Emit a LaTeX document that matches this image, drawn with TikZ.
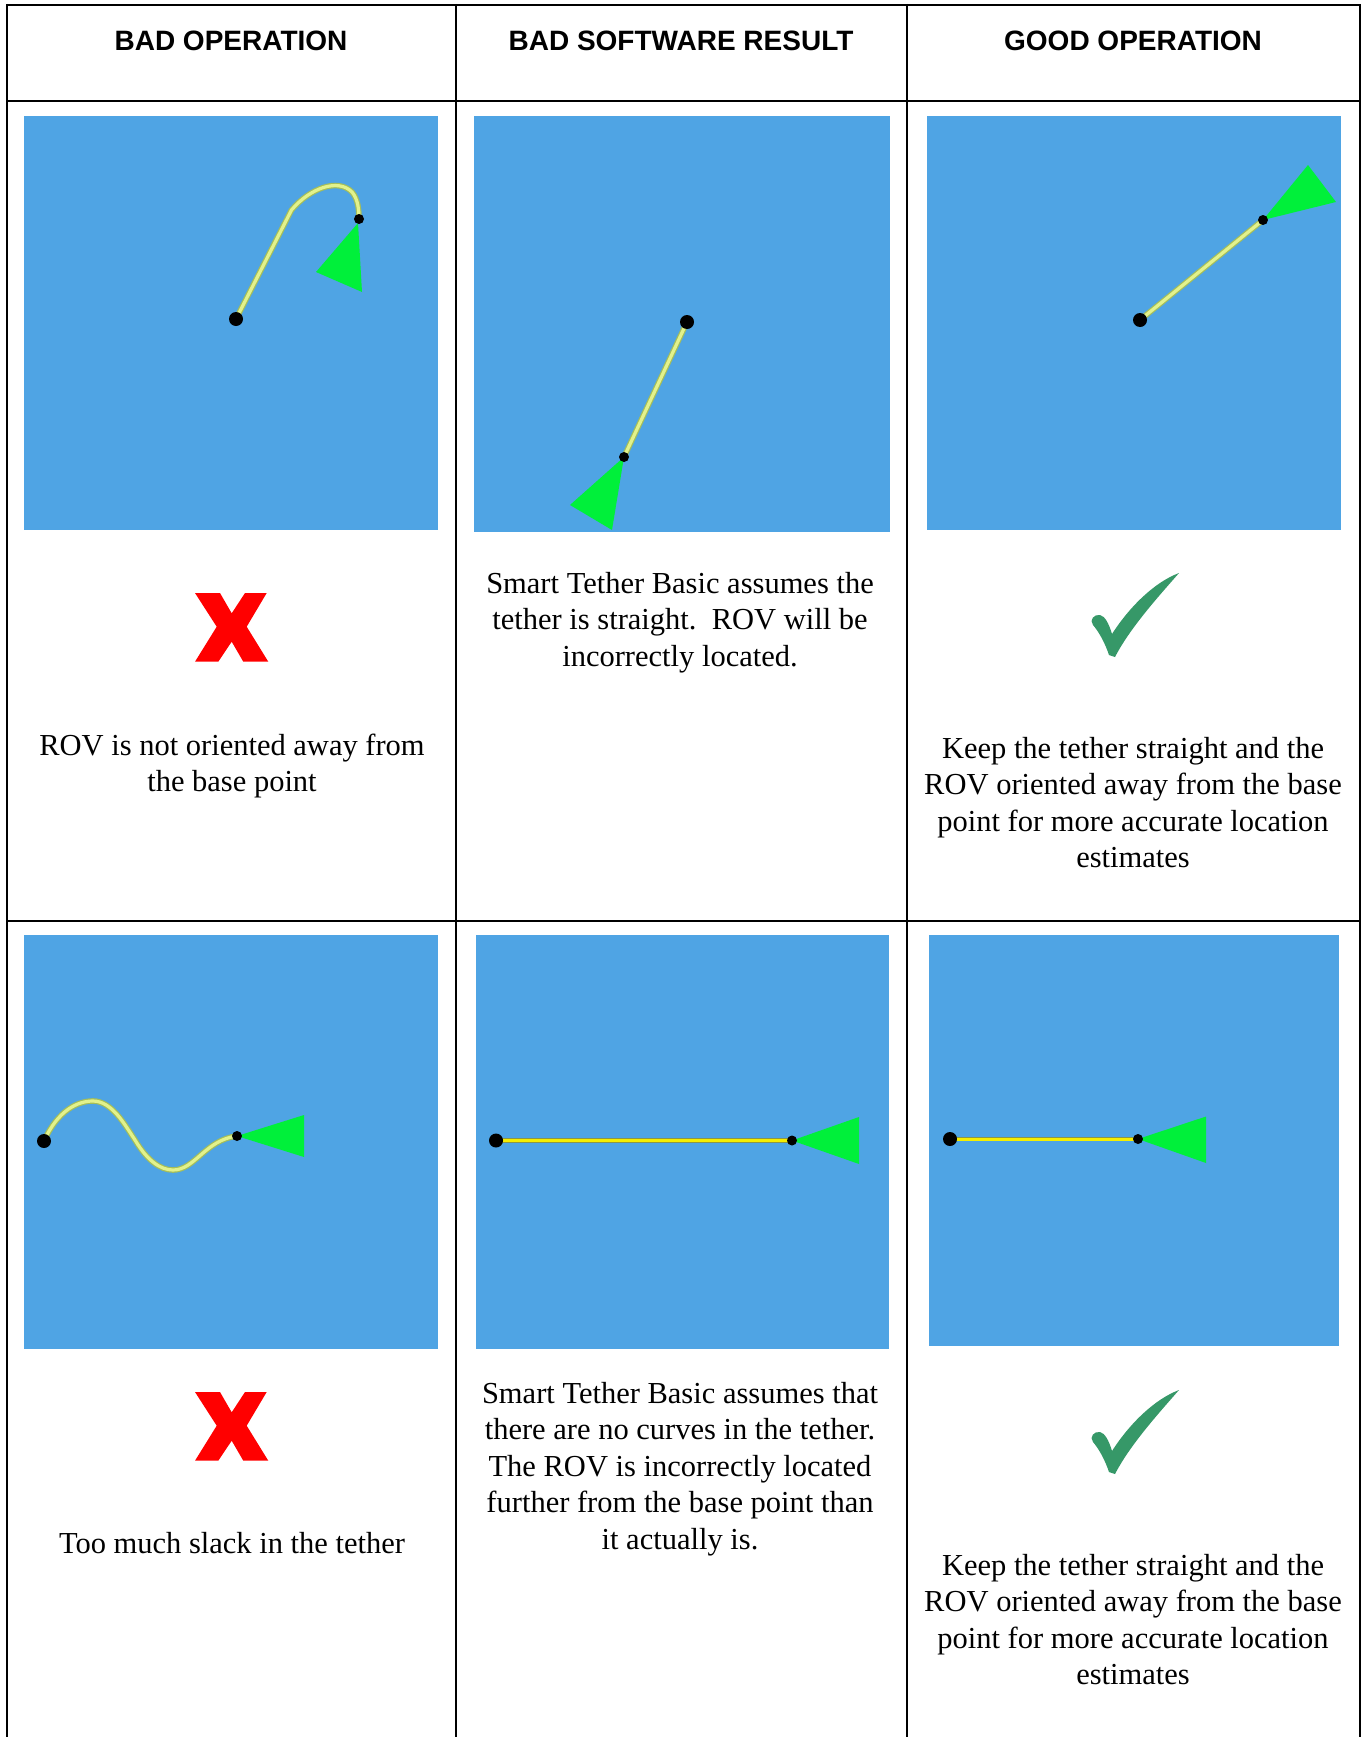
\documentclass[tikz,border=0pt]{standalone}
\usepackage{fontspec}
\setmainfont{Liberation Serif}
\newfontfamily\hdrfont{Liberation Sans}
\definecolor{bgblue}{RGB}{79,164,228}
\definecolor{rovgreen}{RGB}{0,240,58}
\definecolor{xred}{RGB}{255,0,0}
\definecolor{tickgreen}{RGB}{54,152,104}
\definecolor{tinnerA}{RGB}{226,242,140}
\definecolor{touterA}{RGB}{165,190,90}
\definecolor{tinnerB}{RGB}{245,238,0}
\definecolor{touterB}{RGB}{140,150,70}
\tikzset{
  gridline/.style={draw=black, line width=2pt},
  cellbg/.style={fill=bgblue},
  rov/.style={fill=rovgreen},
  tetherA/.style={draw=tinnerA, line width=3.2pt, line cap=round, preaction={draw=touterA, line width=5.6pt, line cap=round}},
  tetherB/.style={draw=tinnerB, line width=3pt, preaction={draw=touterB, line width=4.8pt}},
  bigdot/.style={circle, fill=black, inner sep=0pt, minimum size=14pt},
  smalldot/.style={circle, fill=black, inner sep=0pt, minimum size=10pt},
  headtext/.style={font=\hdrfont\bfseries\fontsize{28}{32}\selectfont, inner sep=0pt, anchor=base},
  bodytext/.style={font=\fontsize{30.5}{36.5}\selectfont, inner sep=0pt, anchor=base},
  redx/.pic={\fill[xred] (15,13) -- (40,13) -- (51.7,33.3) -- (65,13) -- (86.7,13) -- (66.7,46.7)
      -- (88.3,81.7) -- (63.3,81.7) -- (51.7,61.7) -- (38.3,81.7) -- (15,81.7) -- (36.7,46.7) -- cycle;},
  tick/.pic={\fill[tickgreen] (87,0) .. controls (66,24) and (38,55) .. (23,84) -- (17,82)
      .. controls (13,70) and (7,59) .. (1,52) .. controls (-3,47) and (2,41) .. (8,42)
      .. controls (13,43) and (17,51) .. (20,61) .. controls (38,33) and (63,9) .. (87,0) -- cycle;}
}
\begin{document}
\begin{tikzpicture}[x=1pt,y=-1pt]
\useasboundingbox (0,0) rectangle (1364,1737);
\fill[white] (0,0) rectangle (1364,1737);

% ---- blue panels
\fill[cellbg] (24,116) rectangle (438,530);
\fill[cellbg] (474,116) rectangle (890,532);
\fill[cellbg] (927,116) rectangle (1341,530);
\fill[cellbg] (24,935) rectangle (438,1349);
\fill[cellbg] (476,935) rectangle (889,1349);
\fill[cellbg] (929,935) rectangle (1339,1346);

% ---- positions
\coordinate (b11) at (236,319);  \coordinate (r11) at (359,219);
\coordinate (b12) at (687,322);  \coordinate (r12) at (624,457);
\coordinate (b13) at (1140,320); \coordinate (r13) at (1263,220);
\coordinate (b21) at (44,1141);  \coordinate (r21) at (237,1136);
\coordinate (b22) at (496,1140.5); \coordinate (r22) at (792,1140.5);
\coordinate (b23) at (950,1139); \coordinate (r23) at (1138,1139);

% ---- ROV triangles
\fill[rov] (358,223) -- (316,272) -- (362,292) -- cycle;
\fill[rov] (r12) -- (570,505) -- (612,530) -- cycle;
\fill[rov] (r13) -- (1308,165) -- (1336,202) -- cycle;
\fill[rov] (r21) -- (304,1115) -- (304,1157) -- cycle;
\fill[rov] (r22) -- (859,1117) -- (859,1164) -- cycle;
\fill[rov] (r23) -- (1206,1116.5) -- (1206,1163) -- cycle;

% ---- tethers
\draw[tetherA] (b11) -- (291.5,210) .. controls (310,188) and (338,178) .. (352,192)
   .. controls (358,199) and (359,210) .. (r11);
\draw[tetherA] (b12) -- (r12);
\draw[tetherA] (b13) -- (r13);
\draw[tetherA] (b21) .. controls (58,1110) and (78,1101) .. (93,1101)
   .. controls (112,1101) and (125,1125) .. (135,1140)
   .. controls (147,1160) and (160,1170) .. (173,1170)
   .. controls (195,1170) and (205,1140) .. (r21);
\draw[tetherB] (b22) -- (r22);
\draw[tetherB] (b23) -- (r23);

% ---- dots
\node[bigdot] (B11) at (b11) {}; \node[smalldot] (R11) at (r11) {};
\node[bigdot] (B12) at (b12) {}; \node[smalldot] (R12) at (r12) {};
\node[bigdot] (B13) at (b13) {}; \node[smalldot] (R13) at (r13) {};
\node[bigdot] (B21) at (b21) {}; \node[smalldot] (R21) at (r21) {};
\node[bigdot] (B22) at (b22) {}; \node[smalldot] (R22) at (r22) {};
\node[bigdot] (B23) at (b23) {}; \node[smalldot] (R23) at (r23) {};

% ---- table grid
\draw[gridline] (6,5) -- (1360.5,5);
\draw[gridline] (6,100.5) -- (1360.5,100.5);
\draw[gridline] (6,920.5) -- (1360.5,920.5);
\draw[gridline] (7,4) -- (7,1737);
\draw[gridline] (456,4) -- (456,1737);
\draw[gridline] (907,4) -- (907,1737);
\draw[gridline] (1359.5,4) -- (1359.5,1737);

% ---- headers
\node[headtext] (h1) at (231,51) {BAD OPERATION};
\node[headtext] (h2) at (681,51) {BAD SOFTWARE RESULT};
\node[headtext] (h3) at (1133,51) {GOOD OPERATION};

% ---- symbols
\pic (x1) at (180,580) {redx};
\pic (x2) at (180,1379) {redx};
\pic (k1) at (1092,573) {tick};
\pic (k2) at (1092,1390) {tick};

% ---- row 1 texts
\node[bodytext] (t11a) at (232,755) {ROV is not oriented away from};
\node[bodytext] (t11b) at (232,791) {the base point};

\node[bodytext] (t12a) at (680,593) {Smart Tether Basic assumes the};
\node[bodytext] (t12b) at (680,629.5) {tether is straight.\ \ ROV will be};
\node[bodytext] (t12c) at (680,666) {incorrectly located.};

\node[bodytext] (t13a) at (1133,758) {Keep the tether straight and the};
\node[bodytext] (t13b) at (1133,794.5) {ROV oriented away from the base};
\node[bodytext] (t13c) at (1133,831) {point for more accurate location};
\node[bodytext] (t13d) at (1133,867.5) {estimates};

% ---- row 2 texts
\node[bodytext] (t21a) at (232,1553) {Too much slack in the tether};

\node[bodytext] (t22a) at (680,1403) {Smart Tether Basic assumes that};
\node[bodytext] (t22b) at (680,1439.5) {there are no curves in the tether.};
\node[bodytext] (t22c) at (680,1476) {The ROV is incorrectly located};
\node[bodytext] (t22d) at (680,1512.5) {further from the base point than};
\node[bodytext] (t22e) at (680,1549) {it actually is.};

\node[bodytext] (t23a) at (1133,1575) {Keep the tether straight and the};
\node[bodytext] (t23b) at (1133,1611.5) {ROV oriented away from the base};
\node[bodytext] (t23c) at (1133,1648) {point for more accurate location};
\node[bodytext] (t23d) at (1133,1684.5) {estimates};
\end{tikzpicture}
\end{document}
